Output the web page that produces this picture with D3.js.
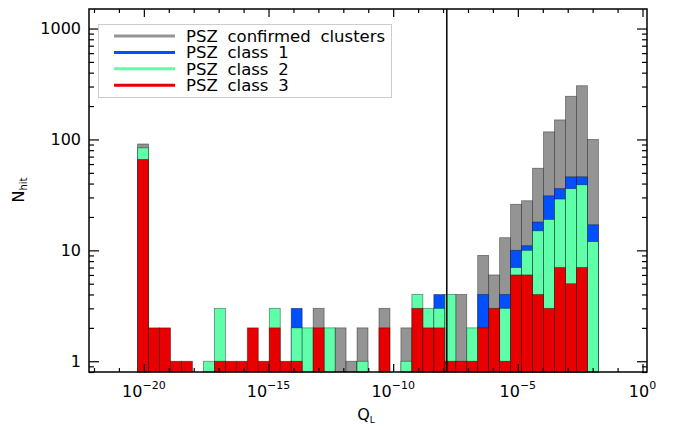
<!DOCTYPE html>
<html>
<head>
<meta charset="utf-8">
<script src="https://cdn.jsdelivr.net/npm/d3@7"></script>
<style>
body { margin: 0; background: #fff; }
svg { display: block; font-family: "DejaVu Sans", sans-serif; }
</style>
</head>
<body>
<div id="viz"></div>
<script>
// histogram binning in log10(Q_L)
const binStart = -20.25;
const binWidth = 0.44;

// counts per bin (0 = nothing visible for that series)
const confirmed = [91, 0, 0, 0, 0, 0, 0, 0, 0, 0, 0, 0, 0, 0, 0, 0, 3, 0, 2, 1, 2, 0, 3, 0, 2, 0, 0, 0, 0, 4, 0, 9, 6, 13, 26, 28, 55, 117, 150, 245, 305, 100];
const class1 = [0, 0, 0, 0, 0, 0, 0, 0, 0, 0, 0, 0, 0, 0, 3, 0, 0, 0, 0, 0, 0, 0, 0, 0, 0, 0, 0, 4, 0, 0, 0, 4, 0, 4, 10, 11, 18, 31, 36, 46, 46, 17];
const class2 = [84, 0, 0, 0, 0, 0, 1, 3, 0, 0, 0, 0, 3, 0, 2, 2, 0, 2, 0, 0, 1, 0, 0, 0, 1, 4, 3, 3, 4, 0, 2, 0, 0, 3, 7, 10, 15, 19, 29, 36, 39, 12];
const class3 = [66, 2, 2, 1, 1, 0, 0, 1, 1, 1, 2, 1, 2, 1, 1, 0, 2, 0, 0, 0, 0, 0, 2, 0, 0, 3, 2, 2, 1, 1, 1, 2, 3, 1, 6, 6, 4, 3, 7, 5, 7, 0];

const seriesNames = ['PSZ confirmed clusters', 'PSZ class 1', 'PSZ class 2', 'PSZ class 3'];
const seriesColours = ['#949494', '#0050ff', '#5effa8', '#e80000'];
const xTickExps = [-20, -15, -10, -5, 0];
const yTickValues = [1, 10, 100, 1000];
const cutLog = -7.85;

const width = 678;
const height = 428;
const margin = { top: 9, right: 31, bottom: 56, left: 89 };

const svg = d3.select('#viz').append('svg')
    .attr('width', width)
    .attr('height', height);

const x = d3.scaleLog()
    .domain([Math.pow(10, -22.2), Math.pow(10, 0.18)])
    .range([margin.left, width - margin.right]);

const y = d3.scaleLog()
    .domain([0.8, 1500])
    .range([height - margin.bottom, margin.top]);

const base = y.range()[0];
const plot = svg.append('g');

[confirmed, class1, class2, class3].forEach((counts, s) => {
    plot.append('g').selectAll('rect')
        .data(counts.map((v, i) => ({ v: v, i: i })).filter(d => d.v > 0))
        .enter().append('rect')
            .attr('x', d => x(Math.pow(10, binStart + d.i * binWidth)))
            .attr('width', d => x(Math.pow(10, binStart + (d.i + 1) * binWidth)) - x(Math.pow(10, binStart + d.i * binWidth)))
            .attr('y', d => y(d.v))
            .attr('height', d => base - y(d.v))
            .style('fill', seriesColours[s])
            .style('stroke', '#000')
            .style('stroke-opacity', 0.45)
            .style('stroke-width', 0.8);
});

// threshold line
svg.append('line')
    .attr('x1', x(Math.pow(10, cutLog))).attr('x2', x(Math.pow(10, cutLog)))
    .attr('y1', margin.top).attr('y2', base)
    .style('stroke', '#000')
    .style('stroke-width', 1.5);

// ticks
const minorX = d3.range(-22, 1).filter(e => e % 5 !== 0).map(e => Math.pow(10, e));
const majorX = xTickExps.map(e => Math.pow(10, e));
const minorY = [];
[0.1, 1, 10, 100].forEach(p => d3.range(2, 10).forEach(m => {
    const v = m * p;
    if (v >= 0.8 && v <= 1500) minorY.push(v);
}));

function axisGroup(axis, tx, ty) {
    const g = svg.append('g')
        .attr('transform', 'translate(' + tx + ',' + ty + ')')
        .call(axis);
    g.select('.domain').remove();
    g.selectAll('line').style('stroke', '#000').style('stroke-width', 1.2);
    return g;
}

axisGroup(d3.axisBottom(x).tickValues(majorX).tickSize(-8).tickFormat(''), 0, base);
axisGroup(d3.axisBottom(x).tickValues(minorX).tickSize(-4).tickFormat(''), 0, base);
axisGroup(d3.axisTop(x).tickValues(majorX).tickSize(-8).tickFormat(''), 0, margin.top);
axisGroup(d3.axisTop(x).tickValues(minorX).tickSize(-4).tickFormat(''), 0, margin.top);
axisGroup(d3.axisRight(y).tickValues(yTickValues).tickSize(-10).tickFormat(''), width - margin.right, 0);
axisGroup(d3.axisRight(y).tickValues(minorY).tickSize(-5).tickFormat(''), width - margin.right, 0);
axisGroup(d3.axisLeft(y).tickValues(minorY).tickSize(-5).tickFormat(''), margin.left, 0);

const yAxis = axisGroup(d3.axisLeft(y).tickValues(yTickValues).tickSize(-10).tickPadding(8).tickFormat(d3.format('d')), margin.left, 0);
yAxis.selectAll('text')
    .style('font-size', '16px')
    .style('font-family', '"DejaVu Sans", sans-serif')
    .style('fill', '#000');

// frame
svg.append('rect')
    .attr('x', margin.left).attr('y', margin.top)
    .attr('width', width - margin.left - margin.right)
    .attr('height', base - margin.top)
    .style('fill', 'none')
    .style('stroke', '#000')
    .style('stroke-width', 1.5);

// x tick labels 10^n
const xLabels = svg.append('g').selectAll('text')
    .data(xTickExps)
    .enter().append('text')
        .attr('x', d => x(Math.pow(10, d)))
        .attr('y', 397)
        .attr('text-anchor', 'middle')
        .style('font-size', '16px');
xLabels.append('tspan').text('10');
xLabels.append('tspan')
    .attr('dy', -8)
    .style('font-size', '11px')
    .text(d => d < 0 ? '\u2212' + Math.abs(d) : String(d));

// axis titles
const xTitle = svg.append('text')
    .attr('x', 366).attr('y', 420)
    .attr('text-anchor', 'middle')
    .style('font-size', '16px');
xTitle.append('tspan').text('Q');
xTitle.append('tspan').attr('dy', 3).style('font-size', '9px').text('L');

const yTitle = svg.append('text')
    .attr('transform', 'translate(24,190) rotate(-90)')
    .attr('text-anchor', 'middle')
    .style('font-size', '16px');
yTitle.append('tspan').text('N');
yTitle.append('tspan').attr('dy', 3).style('font-size', '10px').text('hit');

// legend
const legend = svg.append('g');
legend.append('rect')
    .attr('x', 98.5).attr('y', 24.5)
    .attr('width', 293).attr('height', 73)
    .style('fill', '#fff')
    .style('stroke', '#ccc')
    .style('stroke-width', 1);

const rows = legend.selectAll('g.row')
    .data(seriesNames)
    .enter().append('g')
        .attr('class', 'row')
        .attr('transform', (d, i) => 'translate(0,' + (36 + i * 16.4) + ')');
rows.append('line')
    .attr('x1', 114).attr('x2', 175)
    .style('stroke', (d, i) => seriesColours[i])
    .style('stroke-width', 3);
rows.append('text')
    .attr('x', 186).attr('y', 6)
    .style('font-size', '16.5px')
    .style('word-spacing', '4.5px')
    .text(d => d);
</script>
</body>
</html>
